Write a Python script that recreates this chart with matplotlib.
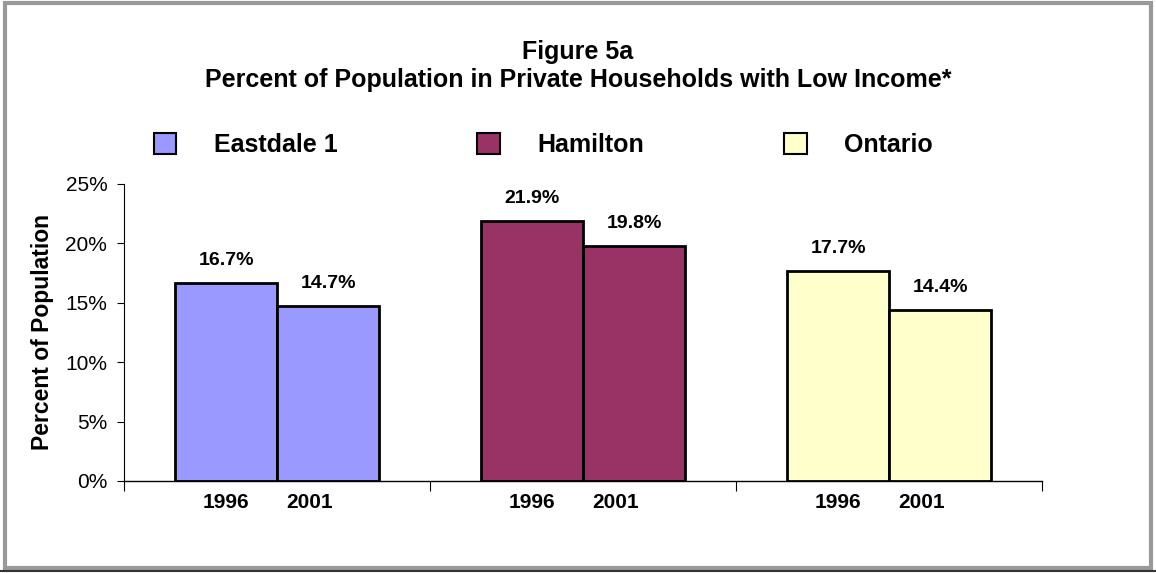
import numpy as np
import matplotlib
matplotlib.use('Agg')
import matplotlib.pyplot as plt
from matplotlib.patches import Patch, Rectangle
from matplotlib.lines import Line2D

plt.rcParams['font.family'] = ['Liberation Sans', 'DejaVu Sans']

areas = ['Eastdale 1', 'Hamilton', 'Ontario']
years = ['1996', '2001']
values_1996 = [16.7, 21.9, 17.7]
values_2001 = [14.7, 19.8, 14.4]
colors = ['#9999FF', '#993366', '#FFFFCC']

fig = plt.figure(figsize=(11.56, 5.73), dpi=100)
ax = fig.add_axes([0.1073, 0.1606, 0.7941, 0.5183])

x = np.arange(len(areas))
w = 1.0 / 3
for i in range(len(areas)):
    for k, vals in enumerate([values_1996, values_2001]):
        xc = x[i] + (k - 0.5) * w
        ax.bar(xc, vals[i], width=w, color=colors[i], edgecolor='black',
               linewidth=2, zorder=3)
        ax.annotate('%.1f%%' % vals[i], (xc, vals[i]), xytext=(0, 10),
                    textcoords='offset points', ha='center', va='bottom',
                    fontsize=14, fontweight='bold')
    # year labels under each group
    ax.text(x[i] - w / 2, -1.77, years[0], ha='center', va='center',
            fontsize=15, fontweight='bold')
    ax.text(x[i] + 0.105, -1.77, years[1], ha='center', va='center',
            fontsize=15, fontweight='bold')

ax.set_xlim(-0.5, 2.5)
ax.set_ylim(0, 25)
ax.set_yticks(np.arange(0, 26, 5))
ax.set_yticklabels(['%d%%' % v for v in range(0, 26, 5)], fontsize=15)
ax.set_xticks([-0.5, 0.5, 1.5, 2.5])
ax.set_xticklabels([])
ax.tick_params(axis='x', direction='out', length=7, width=0.8)
ax.tick_params(axis='y', direction='out', length=5, width=0.8, pad=7)
for s in ['top', 'right']:
    ax.spines[s].set_visible(False)
ax.spines['left'].set_linewidth(0.8)
ax.spines['bottom'].set_linewidth(1.0)
ax.set_ylabel('Percent of Population', fontsize=16.5, fontweight='bold',
              labelpad=8)

fig.text(0.5, 0.91, 'Figure 5a', ha='center', va='center',
         fontsize=18, fontweight='bold')
fig.text(0.5, 0.86, 'Percent of Population in Private Households with Low Income*',
         ha='center', va='center', fontsize=18, fontweight='bold')

handles = [Patch(facecolor=c, edgecolor='black', linewidth=1.5) for c in colors]
leg = fig.legend(handles, areas, ncol=3, loc='center left',
                 bbox_to_anchor=(0.133, 0.747), frameon=False,
                 prop={'size': 18, 'weight': 'bold'},
                 handlelength=0.9, handleheight=0.9, handletextpad=1.5,
                 columnspacing=5.6, borderaxespad=0, borderpad=0)

# outer chart frame
fig.patches.append(Rectangle((0.004, 0.008), 0.992, 0.986, transform=fig.transFigure,
                             fill=False, edgecolor='#999999', linewidth=3))
fig.lines.append(Line2D([0.0, 1.0], [0.004, 0.004], transform=fig.transFigure,
                        color='#333333', linewidth=1.5))

fig.savefig('out.png', dpi=100)
